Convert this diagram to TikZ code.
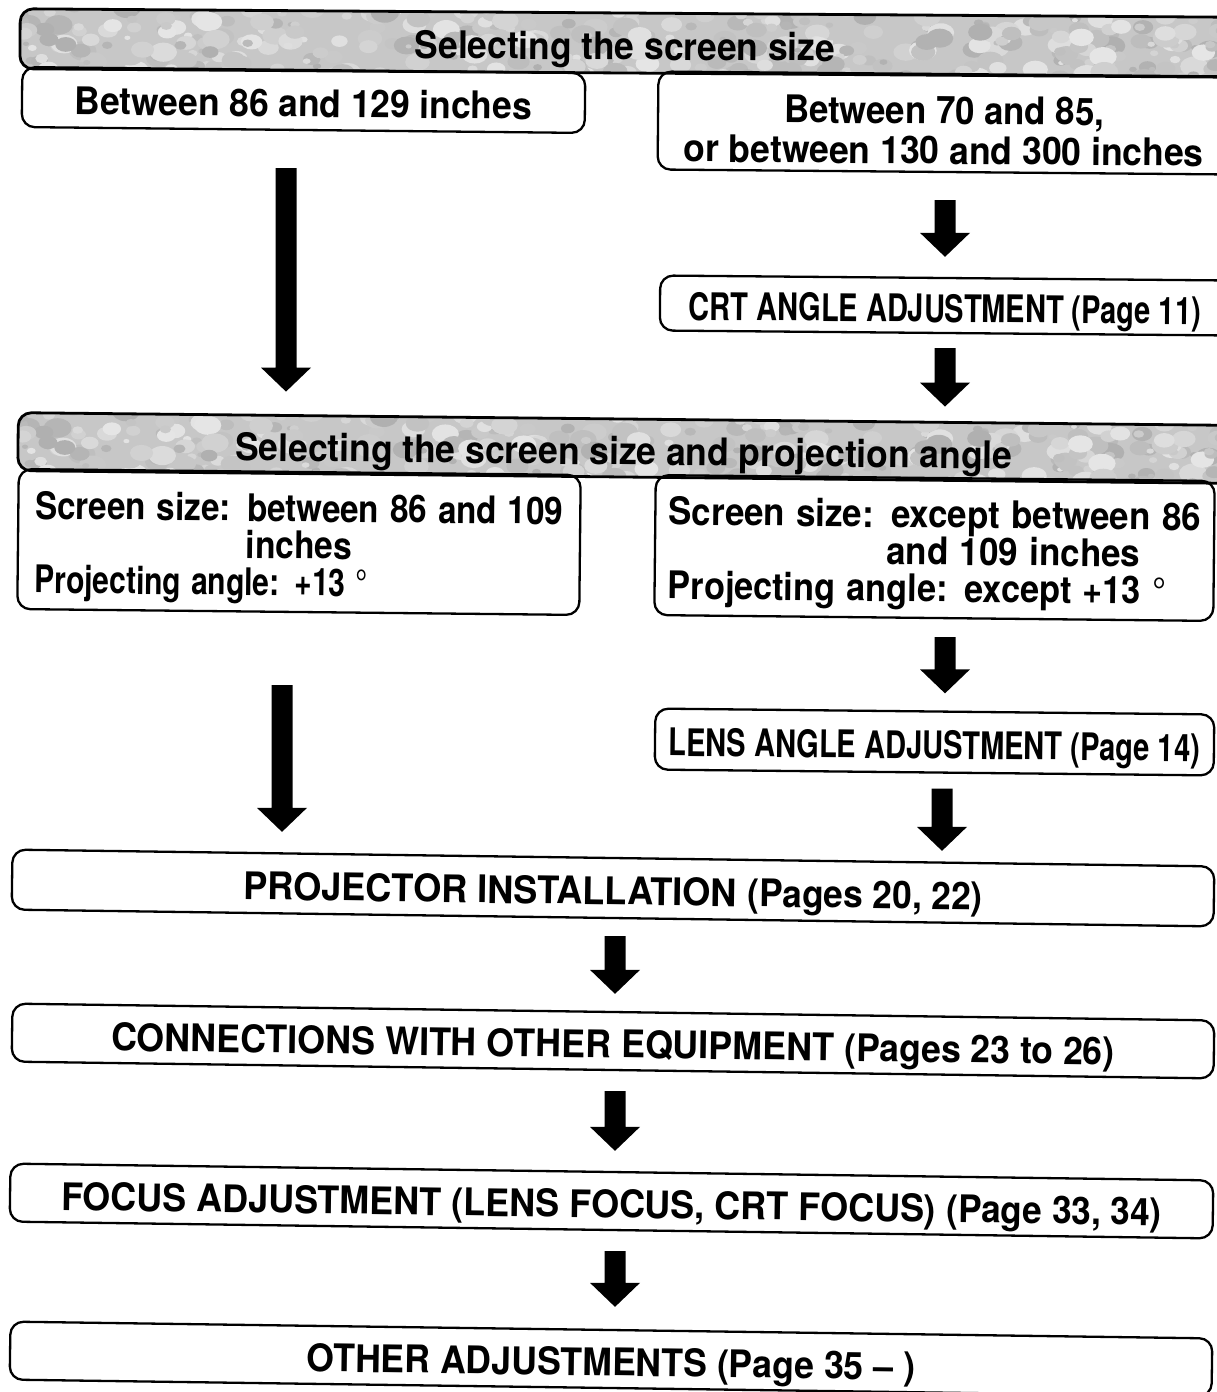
\documentclass[tikz,border=0pt]{standalone}
\usepackage{fontspec}
\setmainfont{TeX Gyre Heros}
\usepackage{graphicx}
\usetikzlibrary{calc}

% stretch a piece of text horizontally to a given width (in pt)
\newcommand\fitw[2]{\resizebox{#1pt}{\height}{#2}}
% strut that sets the first line a little lower in its box
\newcommand\lowstrut{\rule[-0.21em]{0pt}{1.31em}}

% thick block arrow from one node anchor to another, in a given column
% #1 start anchor, #2 end anchor, #3 column coordinate, #4/#5 gaps
\newcommand\flowarrow[5]{%
  \fill let \p1=($(#1 -| #3)+(0,#4)$), \p2=($(#2 -| #3)-(0,#5)$) in
    (\x1-10.5pt,\y1) -- (\x1+10.5pt,\y1) -- (\x1+10.5pt,\y2+24pt)
    -- (\x1+25pt,\y2+24pt) -- (\x1,\y2) -- (\x1-25pt,\y2+24pt)
    -- (\x1-10.5pt,\y2+24pt) -- cycle;}

\begin{document}
\begin{tikzpicture}[x=1pt,y=-1pt,
  box/.style={draw=black, line width=2.3pt, rounded corners=13pt, inner sep=0pt,
    font=\fontsize{38}{37}\selectfont\bfseries,
    execute at begin node=\lowstrut},
  hdr/.style={box, line width=2.8pt, fill=black!22,
    path picture={
      \pgfmathsetseed{17}
      \foreach \k in {1,...,420}{
        \pgfmathsetmacro\dx{rand*620}
        \pgfmathsetmacro\dy{rand*32}
        \pgfmathsetmacro\rr{3+rnd*11}
        \pgfmathtruncatemacro\sh{10+rnd*22}
        \fill[black!\sh] ([shift={(\dx,\dy)}]path picture bounding box.center)
          ellipse [x radius=\rr pt, y radius=0.7*\rr pt];
      }
    }},
]
\useasboundingbox (0,0) rectangle (1216,1392);
\fill[white] (0,0) rectangle (1216,1392);

% columns of the arrows
\coordinate (cL1) at (286,0);
\coordinate (cL2) at (282,0);
\coordinate (cR)  at (945,0);
\coordinate (cR2) at (942,0);
\coordinate (cC)  at (615,0);

% first stage
\node[hdr, rotate=-0.4, minimum width=1210pt, minimum height=60pt] (H1) at (625,43)
  {\fitw{420}{Selecting the screen size}};
\node[box, rotate=-0.6, minimum width=563pt, minimum height=60pt] (B1) at (303.5,100)
  {\fitw{457}{Between 86 and 129 inches}};
\node[box, rotate=-0.5, minimum width=572pt, minimum height=96pt, align=center,
  font=\fontsize{38}{40}\selectfont\bfseries] (B2) at (944,123)
  {\rule{0pt}{50pt}\fitw{320}{Between 70 and 85,}\\\fitw{520}{or between 130 and 300 inches}};
\node[box, rotate=-0.5, minimum width=570pt, minimum height=55pt] (CRT) at (945,305.5)
  {\fitw{512}{CRT ANGLE ADJUSTMENT (Page 11)}};

% second stage
\node[hdr, rotate=-0.6, minimum width=1212pt, minimum height=58pt] (H2) at (624,448)
  {\fitw{777}{Selecting the screen size and projection angle}};
\node[box, rotate=-0.6, minimum height=140pt, text width=528pt, inner xsep=17pt,
  align=left] (L2) at (299,542)
  {\fitw{528}{Screen size: between 86 and 109}\\
   \hspace*{211pt}\fitw{106}{inches}\\
   \fitw{333}{Projecting angle: +13 {\mdseries °}}};
\node[box, rotate=-0.6, minimum height=140pt, text width=532pt, inner xsep=13.5pt,
  align=left] (R2) at (934.5,548)
  {\fitw{532}{Screen size: except between 86}\\
   \hspace*{218pt}\fitw{254}{and 109 inches}\\
   \fitw{498}{Projecting angle: except +13 {\mdseries °}}};
\node[box, rotate=-0.6, minimum width=559pt, minimum height=61pt] (LENS) at (934.5,742)
  {\fitw{531}{LENS ANGLE ADJUSTMENT (Page 14)}};

% common steps
\node[box, rotate=-0.8, minimum width=1202pt, minimum height=60pt] (PROJ) at (613,888)
  {\fitw{494}{PROJECTOR INSTALLATION} \fitw{235}{(Pages 20, 22)}};
\node[box, rotate=-0.8, minimum width=1202pt, minimum height=58pt] (CONN) at (613,1041)
  {\fitw{723}{CONNECTIONS WITH OTHER EQUIPMENT} \fitw{270}{(Pages 23 to 26)}};
\node[box, rotate=-0.8, minimum width=1203pt, minimum height=58pt] (FOCUS) at (611.5,1201)
  {\fitw{875}{FOCUS ADJUSTMENT (LENS FOCUS, CRT FOCUS)} \fitw{215}{(Page 33, 34)}};
\node[box, rotate=-0.8, minimum width=1202pt, minimum height=58pt] (OTHER) at (611,1359)
  {\fitw{609}{OTHER ADJUSTMENTS (Page 35 – )}};

% arrows
\flowarrow{B1.south}{H2.north}{cL1}{37}{26}
\flowarrow{B2.south}{CRT.north}{cR}{27}{20}
\flowarrow{CRT.south}{H2.north}{cR}{14}{11}
\flowarrow{R2.south}{LENS.north}{cR}{18}{17}
\flowarrow{LENS.south}{PROJ.north}{cR2}{15}{6}
\flowarrow{L2.south}{PROJ.north}{cL2}{72}{25}
\flowarrow{PROJ.south}{CONN.north}{cC}{17}{17}
\flowarrow{CONN.south}{FOCUS.north}{cC}{20}{20}
\flowarrow{FOCUS.south}{OTHER.north}{cC}{20}{22}
\end{tikzpicture}
\end{document}
